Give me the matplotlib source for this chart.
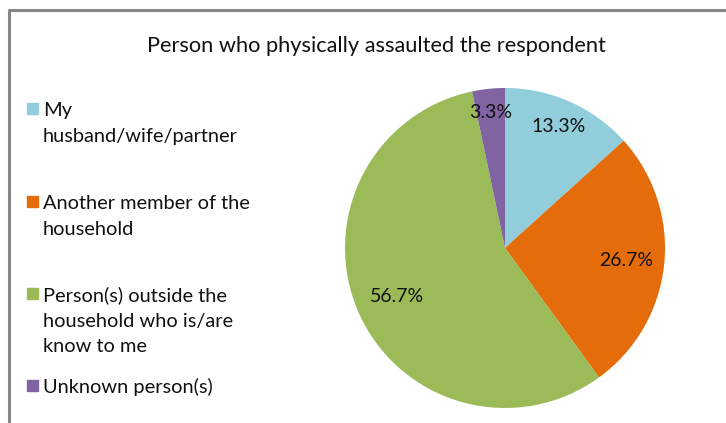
import matplotlib.pyplot as plt
import numpy as np
from matplotlib.lines import Line2D
from matplotlib.patches import Rectangle

plt.rcParams['font.family'] = ['Lato', 'DejaVu Sans']

title = 'Person who physically assaulted the respondent'
labels = ['My\nhusband/wife/partner',
          'Another member of the\nhousehold',
          'Person(s) outside the\nhousehold who is/are\nknow to me',
          'Unknown person(s)']
shares = [13.3, 26.7, 56.7, 3.3]
colors = ['#92CDDC', '#E46C0A', '#9BBB59', '#8064A2']
# how far out each percentage label sits, as a fraction of the radius
label_r = [0.83, 0.76, 0.74, 0.85]

W, H = 726, 423
fig = plt.figure(figsize=(W / 100, H / 100), dpi=100)

# pie axes, centre (505, 248) px, radius 160 px
cx, cy, r = 505, 248, 160
ax = fig.add_axes([(cx - r) / W, 1 - (cy + r) / H, 2 * r / W, 2 * r / H])
wedges, _ = ax.pie(shares, colors=colors, startangle=90, counterclock=False,
                   radius=1, wedgeprops=dict(linewidth=0))
ax.set_xlim(-1, 1)
ax.set_ylim(-1, 1)
ax.set_aspect('equal')

for w, v, d in zip(wedges, shares, label_r):
    ang = np.deg2rad((w.theta1 + w.theta2) / 2)
    ax.text(d * np.cos(ang), d * np.sin(ang), f'{v:.1f}%',
            ha='center', va='center', fontsize=14, color='#111111')

fig.text(376 / W, 1 - 46 / H, title, ha='center', va='center',
         fontsize=15.7, color='#111111')

# legend: coloured square + wrapped label
rows = [109, 202, 293, 385]
for y, lab, c in zip(rows, labels, colors):
    fig.patches.append(Rectangle((27 / W, 1 - (y + 5.5) / H), 11 / W, 11 / H,
                                 transform=fig.transFigure, color=c))
    fig.text(43 / W, 1 - (y - 7) / H, lab, ha='left', va='top',
             fontsize=14.4, color='#111111', linespacing=1.62)

# chart frame (only top and left edges are in view)
fx, fy = 8.5 / W, 1 - 10.5 / H
fig.add_artist(Line2D([fx, fx, 1], [0, fy, fy], transform=fig.transFigure,
                      color='#878787', linewidth=2.2))

fig.savefig('out.png', dpi=100)
